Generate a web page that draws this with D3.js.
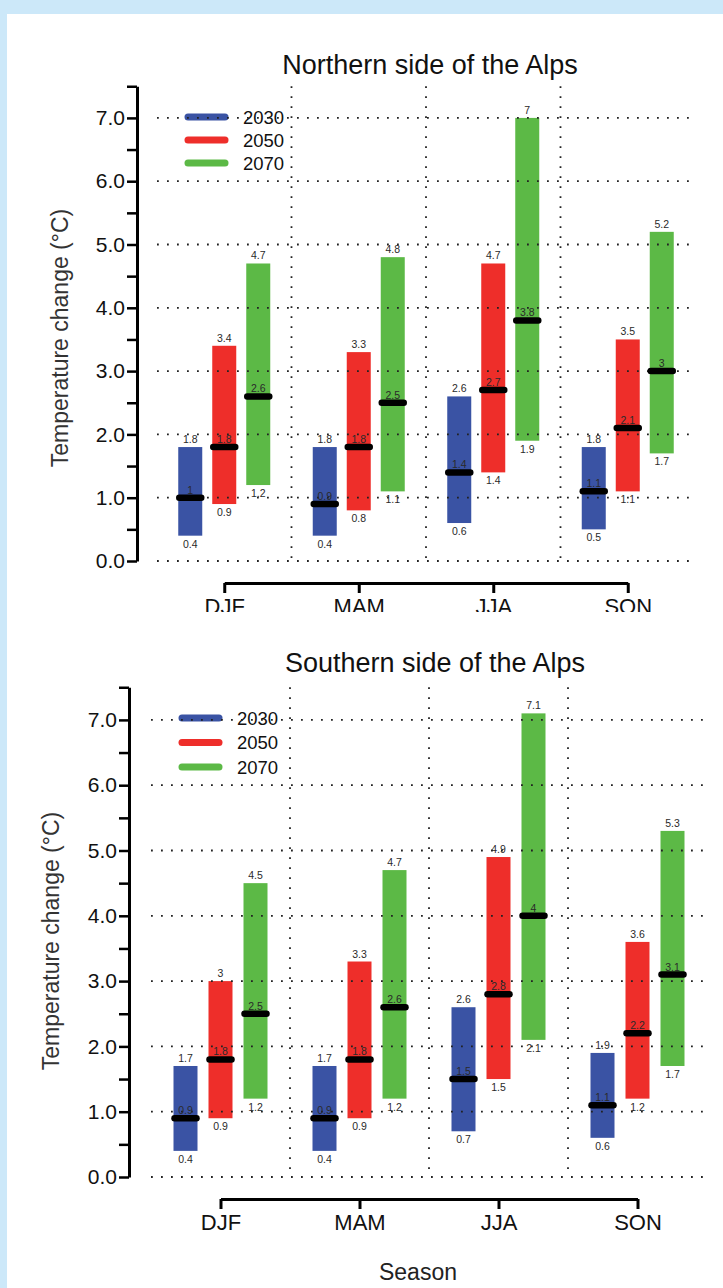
<!DOCTYPE html>
<html><head><meta charset="utf-8">
<script src="https://cdn.jsdelivr.net/npm/d3@7"></script>
<style>
body{margin:0;background:#cce8f9;}
svg{display:block;font-family:"Liberation Sans",Arial,Helvetica,sans-serif;}
</style>
</head><body><svg id="c" width="723" height="1288"></svg>
<script>
// ---------- DATA ----------
const seasons = ["DJF", "MAM", "JJA", "SON"];
const years = ["2030", "2050", "2070"];
const yearColors = ["#3a53a4", "#ee2e2a", "#5cb946"];
const yTickValues = [0, 1, 2, 3, 4, 5, 6, 7];
const yTickLabels = ["0.0", "1.0", "2.0", "3.0", "4.0", "5.0", "6.0", "7.0"];
const yMinorTicks = [0.5, 1.5, 2.5, 3.5, 4.5, 5.5, 6.5, 7.5];
// [season][year]
const northLow    = [[0.4, 0.9, 1.2], [0.4, 0.8, 1.1], [0.6, 1.4, 1.9], [0.5, 1.1, 1.7]];
const northMedian = [[1, 1.8, 2.6],   [0.9, 1.8, 2.5], [1.4, 2.7, 3.8], [1.1, 2.1, 3]];
const northHigh   = [[1.8, 3.4, 4.7], [1.8, 3.3, 4.8], [2.6, 4.7, 7],   [1.8, 3.5, 5.2]];
const southLow    = [[0.4, 0.9, 1.2], [0.4, 0.9, 1.2], [0.7, 1.5, 2.1], [0.6, 1.2, 1.7]];
const southMedian = [[0.9, 1.8, 2.5], [0.9, 1.8, 2.6], [1.5, 2.8, 4],   [1.1, 2.2, 3.1]];
const southHigh   = [[1.7, 3, 4.5],   [1.7, 3.3, 4.7], [2.6, 4.9, 7.1], [1.9, 3.6, 5.3]];
const titles = ["Northern side of the Alps", "Southern side of the Alps"];
const yTitle = "Temperature change (\u00b0C)";
const xTitle = "Season";

// ---------- LAYOUT ----------
const panels = [
  {title: titles[0], low: northLow, med: northMedian, high: northHigh,
   titleX: 430, titleY: 65, axisX: 137, xRange: [157, 695], yZero: 561, unit: 63.3,
   bracketY: 583, legendX: 185, legendY: 117, legendStep: 23, clipTop: 0, clipBottom: 612,
   yTitleX: 60, yTitleY: 338, offset: 34},
  {title: titles[1], low: southLow, med: southMedian, high: southHigh,
   titleX: 435, titleY: 663, axisX: 129, xRange: [151, 707], yZero: 1177, unit: 65.3,
   bracketY: 1199, legendX: 179, legendY: 718, legendStep: 24.5, clipTop: 620, clipBottom: 1288,
   yTitleX: 51, yTitleY: 941, offset: 35}
];

const svg = d3.select("#c");
svg.append("rect").attr("x", 7).attr("y", 14).attr("width", 716).attr("height", 1274).attr("fill", "#fff");
const defs = svg.append("defs");
const fmt = v => String(v);

panels.forEach((p, pi) => {
  defs.append("clipPath").attr("id", "clip" + pi)
    .append("rect").attr("x", 0).attr("y", p.clipTop).attr("width", 723).attr("height", p.clipBottom - p.clipTop);
  const g = svg.append("g").attr("clip-path", `url(#clip${pi})`);

  const y = d3.scaleLinear().domain([0, 7.5]).range([p.yZero, p.yZero - 7.5 * p.unit]);
  const x = d3.scaleBand().domain(seasons).range(p.xRange);
  const xo = d3.scalePoint().domain(years).range([-p.offset, p.offset]);
  const bw = 24;

  const rows = [];
  seasons.forEach((s, si) => years.forEach((yr, yi) => rows.push({
    s, yr, yi, low: p.low[si][yi], med: p.med[si][yi], high: p.high[si][yi],
    cx: x(s) + x.bandwidth() / 2 + xo(yr)
  })));

  // bars
  g.append("g").selectAll("rect").data(rows).join("rect")
    .attr("x", d => d.cx - bw / 2).attr("width", bw)
    .attr("y", d => y(d.high)).attr("height", d => y(d.low) - y(d.high))
    .attr("fill", d => yearColors[d.yi]);

  // legend
  const lg = g.append("g");
  years.forEach((yr, i) => {
    const ly = p.legendY + i * p.legendStep;
    lg.append("line").attr("x1", p.legendX + 3).attr("x2", p.legendX + 40).attr("y1", ly).attr("y2", ly)
      .attr("stroke", yearColors[i]).attr("stroke-width", 7).attr("stroke-linecap", "round");
    lg.append("text").attr("x", p.legendX + 58).attr("y", ly).attr("dy", "0.36em")
      .attr("font-size", 18.5).attr("fill", "#111").text(yr);
  });

  // dotted grid
  const dots = {stroke: "#222", "stroke-width": 1.8, "stroke-dasharray": "1.8,8.2"};
  const grid = g.append("g");
  grid.selectAll("line.h").data(yTickValues).join("line").attr("class", "h")
    .attr("x1", p.xRange[0]).attr("x2", p.xRange[1])
    .attr("y1", d => y(d)).attr("y2", d => y(d))
    .each(function () { for (const k in dots) d3.select(this).attr(k, dots[k]); });
  grid.selectAll("line.v").data(seasons.slice(1)).join("line").attr("class", "v")
    .attr("x1", d => x(d)).attr("x2", d => x(d))
    .attr("y1", y(7.5)).attr("y2", y(0))
    .each(function () { for (const k in dots) d3.select(this).attr(k, dots[k]); });

  // median markers
  g.append("g").selectAll("line").data(rows).join("line")
    .attr("x1", d => d.cx - 11).attr("x2", d => d.cx + 11)
    .attr("y1", d => y(d.med)).attr("y2", d => y(d.med))
    .attr("stroke", "#000").attr("stroke-width", 6.5).attr("stroke-linecap", "round");

  // value labels
  const lab = g.append("g").attr("font-size", 10.5).attr("fill", "#2a2a2a").attr("text-anchor", "middle");
  lab.selectAll("text.hi").data(rows).join("text").attr("class", "hi")
    .attr("x", d => d.cx).attr("y", d => y(d.high) - 4).text(d => fmt(d.high));
  lab.selectAll("text.lo").data(rows).join("text").attr("class", "lo")
    .attr("x", d => d.cx).attr("y", d => y(d.low) + 12).text(d => fmt(d.low));
  lab.selectAll("text.md").data(rows).join("text").attr("class", "md")
    .attr("x", d => d.cx).attr("y", d => y(d.med) - 4).text(d => fmt(d.med));

  // y axis
  const ya = g.append("g").attr("transform", `translate(${p.axisX},0)`)
    .call(d3.axisLeft(y).tickValues(yTickValues).tickFormat((d, i) => yTickLabels[i])
      .tickSize(10).tickSizeOuter(0).tickPadding(2));
  ya.select(".domain").attr("stroke-width", 3);
  ya.selectAll(".tick line").attr("stroke-width", 2.5);
  ya.selectAll(".tick text").attr("font-size", 21).attr("fill", "#111").attr("font-family", null);
  g.append("g").attr("transform", `translate(${p.axisX},0)`)
    .call(d3.axisLeft(y).tickValues(yMinorTicks).tickFormat("").tickSize(10).tickSizeOuter(0))
    .call(a => a.select(".domain").remove())
    .selectAll(".tick line").attr("stroke-width", 2.5);

  // season bracket axis
  const xs = d3.scalePoint().domain(seasons)
    .range([x(seasons[0]) + x.bandwidth() / 2, x(seasons[3]) + x.bandwidth() / 2]);
  const xa = g.append("g").attr("transform", `translate(0,${p.bracketY})`)
    .call(d3.axisBottom(xs).tickSize(10).tickSizeOuter(0).tickPadding(5));
  xa.select(".domain").attr("stroke-width", 3);
  xa.selectAll(".tick line").attr("stroke-width", 3);
  xa.selectAll(".tick text").attr("font-size", 22).attr("fill", "#111").attr("font-family", null);

  // titles
  g.append("text").attr("x", p.titleX).attr("y", p.titleY).attr("dy", "0.35em")
    .attr("text-anchor", "middle").attr("font-size", 27).attr("fill", "#111").text(p.title);
  g.append("text").attr("transform", `translate(${p.yTitleX},${p.yTitleY}) rotate(-90)`)
    .attr("dy", "0.35em").attr("text-anchor", "middle").attr("font-size", 23).attr("fill", "#333").text(yTitle);
});

svg.append("text").attr("x", 418).attr("y", 1272).attr("dy", "0.35em").attr("text-anchor", "middle")
  .attr("font-size", 23).attr("fill", "#222").text(xTitle);
</script>
</body></html>
